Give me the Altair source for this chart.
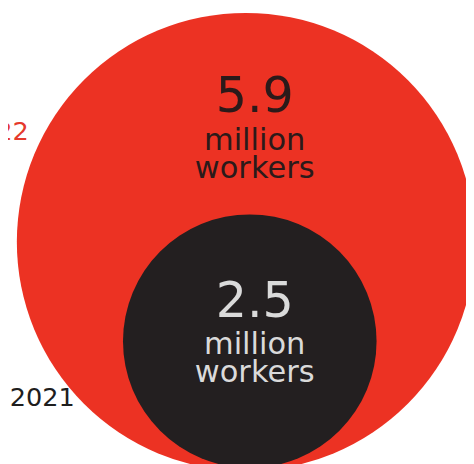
import altair as alt
import pandas as pd

# ---- data ----
years = ["2022", "2021"]
workers_millions = [5.9, 2.5]
number_labels = ["5.9", "2.5"]
unit_line1 = ["million", "million"]
unit_line2 = ["workers", "workers"]

# ---- styles ----
circle_colors = ["#EC3223", "#231F20"]
text_colors = ["#2B1A1A", "#DADADA"]
year_label_colors = ["#E5392C", "#1E1E1E"]
FONT = "DejaVu Sans"

df = pd.DataFrame({
    "year": years,
    "value": workers_millions,
    "number": number_labels,
    "line1": unit_line1,
    "line2": unit_line2,
})

dom = [2.5, 5.9]


def qscale(rng):
    return alt.Scale(domain=dom, range=rng, nice=False, zero=False)


base = alt.Chart(df)

circles = base.mark_circle(opacity=1).encode(
    x=alt.X("value:Q", scale=qscale([246, 242]), axis=None),
    y=alt.Y("value:Q", scale=qscale([335, 234]), axis=None),
    size=alt.Size("value:Q", scale=qscale([258 ** 2, 466 ** 2]), legend=None),
    color=alt.Color("year:N", scale=alt.Scale(domain=years, range=circle_colors), legend=None),
    order=alt.Order("value:Q", sort="descending"),
)

tx = alt.X("value:Q", scale=qscale([251, 251]), axis=None)
ty = alt.Y("value:Q", scale=qscale([310, 102]), axis=None)
tc = alt.Color("year:N", scale=alt.Scale(domain=years, range=text_colors), legend=None)

numbers = base.mark_text(font=FONT, fontSize=50, align="center", baseline="alphabetic").encode(
    x=tx, y=ty, color=tc, text="number:N")
line1 = base.mark_text(font=FONT, fontSize=31, align="center", baseline="alphabetic", dy=38).encode(
    x=tx, y=ty, color=tc, text="line1:N")
line2 = base.mark_text(font=FONT, fontSize=31, align="center", baseline="alphabetic", dy=67).encode(
    x=tx, y=ty, color=tc, text="line2:N")

year_labels = base.mark_text(font=FONT, fontSize=26, align="right", baseline="alphabetic").encode(
    x=alt.X("value:Q", scale=qscale([68, 21]), axis=None),
    y=alt.Y("value:Q", scale=qscale([401, 130]), axis=None),
    color=alt.Color("year:N", scale=alt.Scale(domain=years, range=year_label_colors), legend=None),
    text="year:N",
)

chart = alt.layer(circles, numbers, line1, line2, year_labels).resolve_scale(
    x="independent", y="independent", color="independent", size="independent"
).properties(
    width=466, height=456, autosize=alt.AutoSizeParams(type="none"), padding=0, background="white"
).configure_view(stroke=None)

chart.save("out.html", embed_options={"renderer": "svg", "actions": False})
